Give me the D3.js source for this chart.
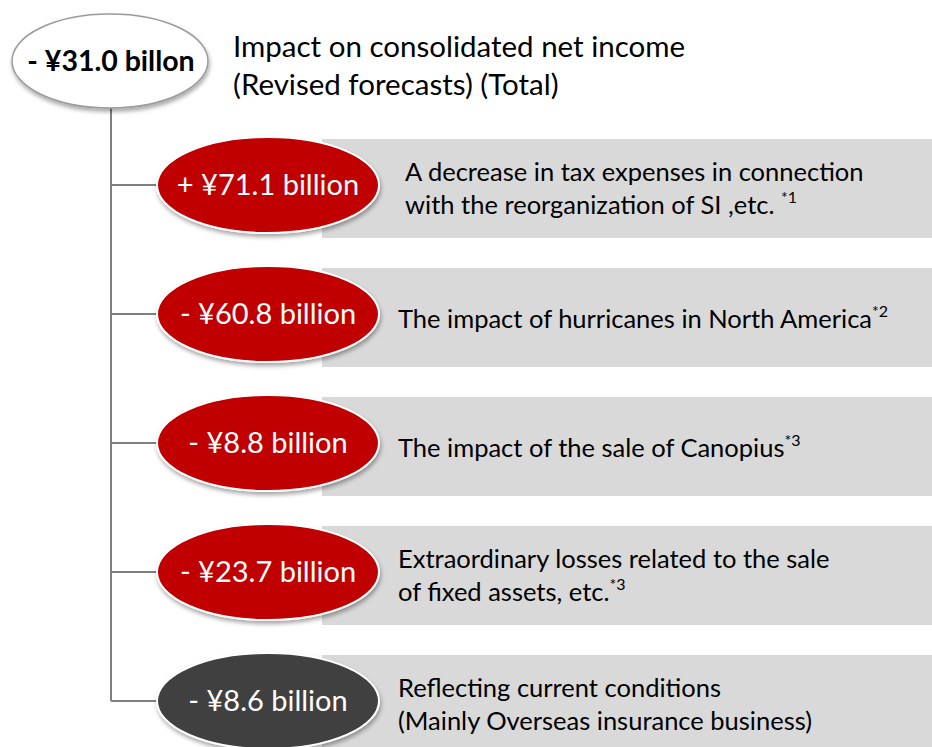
<!DOCTYPE html>
<html>
<head>
<meta charset="utf-8">
<script src="https://cdn.jsdelivr.net/npm/d3@7"></script>
<style>
  body { margin: 0; background: #fff; }
  text { font-family: Lato, "Open Sans", sans-serif; }
</style>
</head>
<body>
<script>
// data
const totalLabel = "- ¥31.0 billon";
const titleLines = ["Impact on consolidated net income", "(Revised forecasts) (Total)"];

const itemIds = ["tax", "hurricane", "canopius", "fixed", "current"];
const amounts = ["+ ¥71.1 billion", "- ¥60.8 billion", "- ¥8.8 billion", "- ¥23.7 billion", "- ¥8.6 billion"];
const descriptions = [
  ["A decrease in tax expenses in connection", "with the reorganization of SI ,etc. "],
  ["The impact of hurricanes in North America"],
  ["The impact of the sale of Canopius"],
  ["Extraordinary losses related to the sale", "of fixed assets, etc."],
  ["Reflecting current conditions", "(Mainly Overseas insurance business)"]
];
const notes = ["*1", "*2", "*3", "*3", ""];
const kinds = ["red", "red", "red", "red", "dark"];

const W = 932, H = 747;
const fillColor = { red: "#c00000", dark: "#404040" };

const svg = d3.select("body").append("svg")
  .attr("width", W)
  .attr("height", H);

const defs = svg.append("defs");
const shadow = defs.append("filter").attr("id", "shadow")
  .attr("x", "-20%").attr("y", "-20%").attr("width", "140%").attr("height", "150%");
shadow.append("feDropShadow")
  .attr("dx", 1).attr("dy", 3).attr("stdDeviation", 2)
  .attr("flood-color", "#000").attr("flood-opacity", 0.35);

// row positions
const y = d3.scalePoint().domain(itemIds).range([185, 701]);

const rootX = 110, rootY = 61, rootRx = 98, rootRy = 47;
const nodeX = 268, nodeRx = 111, nodeRy = 48;
const lineX = 111;
const boxX = 322;

// connector lines
const conn = svg.append("g").attr("stroke", "#7f7f7f").attr("stroke-width", 2).attr("fill", "none");
conn.append("line")
  .attr("x1", lineX).attr("x2", lineX)
  .attr("y1", rootY + rootRy).attr("y2", y(itemIds[itemIds.length - 1]));
conn.selectAll(".branch").data(itemIds).join("line")
  .attr("class", "branch")
  .attr("x1", lineX).attr("x2", nodeX - nodeRx)
  .attr("y1", d => y(d)).attr("y2", d => y(d));

// gray boxes
svg.append("g").selectAll("rect").data(itemIds).join("rect")
  .attr("x", boxX)
  .attr("width", W - boxX)
  .attr("y", d => y(d) - 46)
  .attr("height", 99)
  .attr("fill", "#d9d9d9");

// root ellipse
svg.append("ellipse")
  .attr("cx", rootX).attr("cy", rootY)
  .attr("rx", rootRx).attr("ry", rootRy)
  .attr("fill", "#fff")
  .attr("stroke", "#9a9a9a")
  .attr("stroke-width", 1.5)
  .attr("filter", "url(#shadow)");
svg.append("text")
  .attr("x", rootX + 1).attr("y", rootY + 10)
  .attr("text-anchor", "middle")
  .attr("font-size", 28.5)
  .attr("font-weight", "bold")
  .attr("fill", "#000")
  .text(totalLabel);

svg.append("g").selectAll("text").data(titleLines).join("text")
  .attr("x", 233)
  .attr("y", (d, i) => 57 + i * 38)
  .attr("font-size", 29.5)
  .attr("fill", "#000")
  .text(d => d);

// item ellipses
const rows = itemIds.map((id, i) => ({
  id, amount: amounts[i], lines: descriptions[i], note: notes[i], kind: kinds[i]
}));

const node = svg.append("g").selectAll("g").data(rows).join("g");

node.append("ellipse")
  .attr("cx", nodeX).attr("cy", d => y(d.id))
  .attr("rx", nodeRx).attr("ry", nodeRy)
  .attr("fill", d => fillColor[d.kind])
  .attr("stroke", "#fff")
  .attr("stroke-width", 2)
  .attr("filter", "url(#shadow)");

node.append("text")
  .attr("x", nodeX).attr("y", d => y(d.id) + 10)
  .attr("text-anchor", "middle")
  .attr("font-size", 29)
  .attr("fill", "#fff")
  .text(d => d.amount);

const desc = node.append("text")
  .attr("font-size", 25.5)
  .attr("fill", "#000");

desc.each(function (d) {
  const t = d3.select(this);
  const n = d.lines.length;
  const lh = 33;
  const y0 = y(d.id) + 12 - (n - 1) * lh / 2 + (n === 1 ? 2 : 0);
  d.lines.forEach((line, j) => {
    t.append("tspan")
      .attr("x", d.id === "tax" ? 405 : 398)
      .attr("y", y0 + j * lh)
      .text(line);
  });
  if (d.note) {
    t.append("tspan")
      .attr("dy", -11)
      .attr("font-size", 16)
      .text(d.note);
  }
});
</script>
</body>
</html>
